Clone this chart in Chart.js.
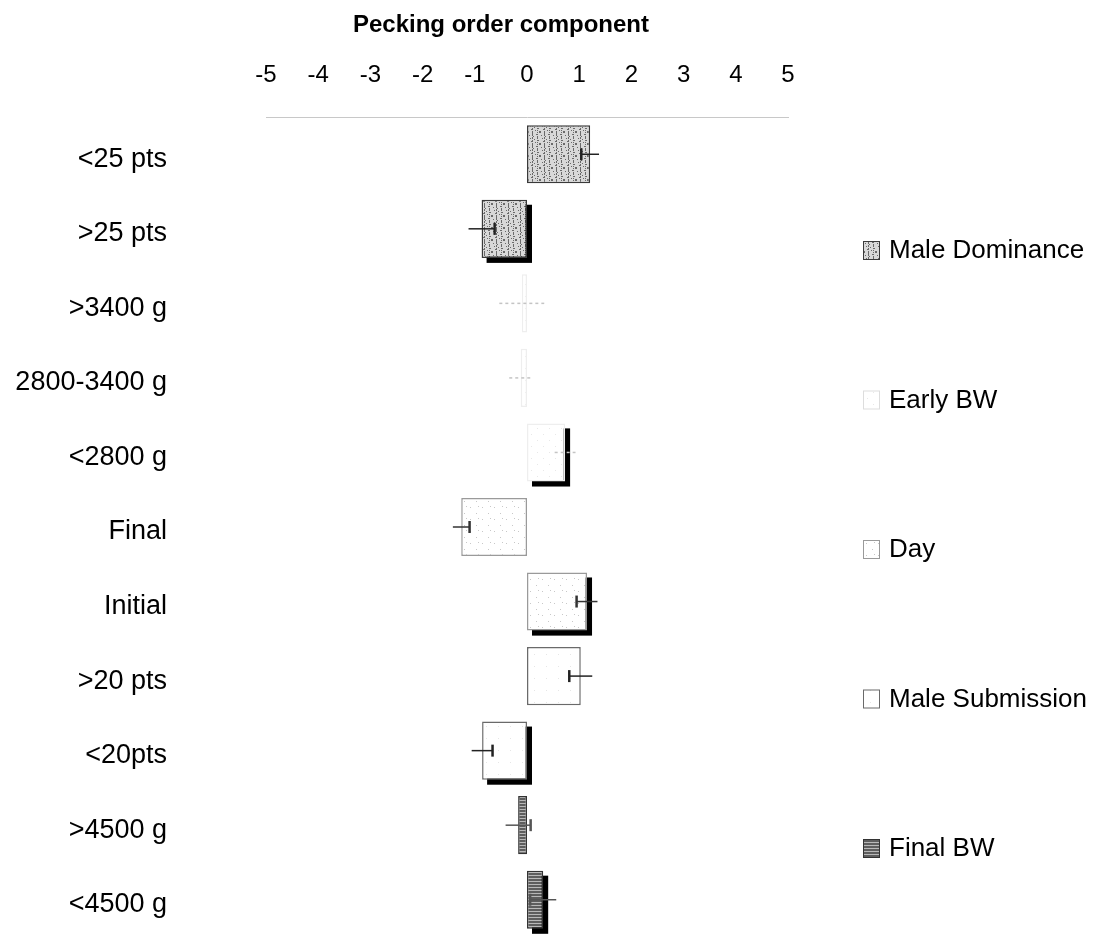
<!DOCTYPE html>
<html>
<head>
<meta charset="utf-8">
<script src="https://cdn.jsdelivr.net/npm/chart.js@4/dist/chart.umd.min.js"></script>
<style>
  html, body { margin: 0; padding: 0; background: #fff; }
  #wrap { width: 1101px; height: 937px; position: relative; }
</style>
</head>
<body>
<div id="wrap"><canvas id="peckChart"></canvas></div>
<script>
const categories = ['<25 pts', '>25 pts', '>3400 g', '2800-3400 g', '<2800 g', 'Final', 'Initial', '>20 pts', '<20pts', '>4500 g', '<4500 g'];
const seriesNames = ['Male Dominance', 'Early BW', 'Day', 'Male Submission', 'Final BW'];
const axisTitle = 'Pecking order component';

// one value per category, null where the category belongs to another factor
const maleDominance  = [1.21, -0.87, null, null, null, null, null, null, null, null, null];
const earlyBW        = [null, null, -0.1, -0.12, 0.73, null, null, null, null, null, null];
const day            = [null, null, null, null, null, -1.26, 1.15, null, null, null, null];
const maleSubmission = [null, null, null, null, null, null, null, 1.03, -0.86, null, null];
const finalBW        = [null, null, null, null, null, null, null, null, null, -0.17, 0.31];

// standard errors
const maleDominanceErr  = [0.17, 0.25, null, null, null, null, null, null, null, null, null];
const earlyBWErr        = [null, null, 0.43, 0.22, 0.2, null, null, null, null, null, null];
const dayErr            = [null, null, null, null, null, 0.16, 0.2, null, null, null, null];
const maleSubmissionErr = [null, null, null, null, null, null, null, 0.22, 0.2, null, null];
const finalBWErr        = [null, null, null, null, null, null, null, null, null, 0.24, 0.25];

const xTicksMin = -5;
const xTicksMax = 5;

const seriesValues = [maleDominance, earlyBW, day, maleSubmission, finalBW];
const seriesErrors = [maleDominanceErr, earlyBWErr, dayErr, maleSubmissionErr, finalBWErr];

const FONT = '"Liberation Sans", Arial, sans-serif';

// grey print-style fills
function makePattern(kind) {
  const c = document.createElement('canvas');
  c.width = 12; c.height = 12;
  const g = c.getContext('2d');
  g.fillStyle = '#fff';
  g.fillRect(0, 0, 12, 12);
  if (kind === 'speckle') {
    g.fillStyle = '#d8d8d8';
    g.fillRect(0, 0, 12, 12);
    g.fillStyle = '#6a6a6a';
    for (let y = 0; y < 12; y++) {
      for (let x = 0; x < 12; x++) {
        if ((x * 7 + y * 5) % 11 === 0 || (x === 4 && y % 3 !== 1) || (x === 9 && y % 2 === 0)) g.fillRect(x, y, 1, 1);
      }
    }
  } else if (kind === 'faint') {
    g.fillStyle = '#e8e8e8';
    g.fillRect(3, 2, 1, 1);
    g.fillRect(9, 8, 1, 1);
  } else if (kind === 'dots') {
    g.fillStyle = '#c8c8c8';
    g.fillRect(2, 3, 1, 1);
    g.fillRect(8, 9, 1, 1);
    g.fillRect(10, 2, 1, 1);
  } else if (kind === 'plain') {
    g.fillStyle = '#e6e6e6';
    g.fillRect(6, 6, 1, 1);
  } else if (kind === 'stripes') {
    for (let y = 0; y < 12; y += 3) {
      g.fillStyle = '#5e5e5e';
      g.fillRect(0, y, 12, 2);
      g.fillStyle = '#b8b8b8';
      g.fillRect(0, y + 2, 12, 1);
    }
  }
  return g.createPattern(c, 'repeat');
}

const fills = [makePattern('speckle'), makePattern('faint'), makePattern('dots'), makePattern('plain'), makePattern('stripes')];
const edges = ['#3a3a3a', '#eeeeee', '#9a9a9a', '#6a6a6a', '#333'];
const errColors = ['#222', '#c4c4c4', '#333', '#222', '#555'];

// drop shadow under the last bar of each factor, plus the error whiskers
const barExtras = {
  id: 'barExtras',
  beforeDatasetsDraw(chart) {
    const ctx = chart.ctx;
    chart.data.datasets.forEach((ds, i) => {
      const last = ds.data.reduce((k, v, j) => (v === null ? k : j), -1);
      const bar = chart.getDatasetMeta(i).data[last];
      if (!bar) return;
      const p = bar.getProps(['x', 'y', 'base', 'height'], true);
      ctx.save();
      ctx.fillStyle = '#000';
      ctx.fillRect(Math.min(p.x, p.base) + 5, p.y - p.height / 2 + 5, Math.abs(p.x - p.base), p.height);
      ctx.restore();
    });
  },
  afterDatasetsDraw(chart) {
    const ctx = chart.ctx;
    const xs = chart.scales.x;
    chart.data.datasets.forEach((ds, i) => {
      const meta = chart.getDatasetMeta(i);
      ds.data.forEach((v, j) => {
        const e = ds.errors[j];
        if (v === null || e === null) return;
        const y = meta.data[j].getProps(['y'], true).y;
        const lo = xs.getPixelForValue(v - e);
        const hi = xs.getPixelForValue(v + e);
        const inner = v >= 0 ? lo : hi;
        ctx.save();
        ctx.strokeStyle = errColors[i];
        ctx.lineWidth = 1.5;
        if (i === 1) ctx.setLineDash([3, 3]);
        ctx.beginPath();
        ctx.moveTo(lo, y);
        ctx.lineTo(hi, y);
        ctx.stroke();
        if (i !== 1) {
          ctx.lineWidth = 2.5;
          ctx.beginPath();
          ctx.moveTo(inner, y - 6);
          ctx.lineTo(inner, y + 6);
          ctx.stroke();
        }
        ctx.restore();
      });
    });
  }
};

// axis heading and legend column on the right
const sideLegend = {
  id: 'sideLegend',
  afterDraw(chart) {
    const ctx = chart.ctx;
    ctx.save();
    ctx.fillStyle = '#000';
    ctx.textAlign = 'center';
    ctx.textBaseline = 'middle';
    ctx.font = 'bold 24px ' + FONT;
    ctx.fillText(axisTitle, 501, 25);

    ctx.textAlign = 'left';
    ctx.font = '26px ' + FONT;
    chart.data.datasets.forEach((ds, i) => {
      const cy = 250 + i * 149.5;
      ctx.fillStyle = ds.backgroundColor;
      ctx.fillRect(863, cy - 9, 16, 18);
      ctx.strokeStyle = i === 1 ? '#ddd' : ds.borderColor;
      ctx.lineWidth = 1;
      ctx.strokeRect(863.5, cy - 8.5, 16, 18);
      ctx.fillStyle = '#000';
      ctx.fillText(ds.label, 889, cy + 1);
    });
    ctx.restore();
  }
};

new Chart(document.getElementById('peckChart'), {
  type: 'bar',
  data: {
    labels: categories,
    datasets: seriesNames.map((name, i) => ({
      label: name,
      data: seriesValues[i],
      errors: seriesErrors[i],
      backgroundColor: fills[i],
      borderColor: edges[i],
      borderWidth: 1.5,
      borderSkipped: false,
      barPercentage: 0.78,
      categoryPercentage: 1
    }))
  },
  options: {
    indexAxis: 'y',
    responsive: true,
    maintainAspectRatio: false,
    animation: false,
    layout: { padding: { left: 0, right: 313, top: 0, bottom: -6 } },
    plugins: {
      legend: { display: false },
      tooltip: { enabled: false }
    },
    scales: {
      x: {
        position: 'top',
        min: xTicksMin,
        max: xTicksMax,
        grid: { display: false, drawTicks: false },
        border: { display: true, color: '#c8c8c8', dash: [2, 6] },
        ticks: {
          stepSize: 1,
          padding: 27,
          color: '#000',
          font: { family: FONT, size: 24 }
        },
        afterFit(scale) { scale.height = 117; }
      },
      y: {
        stacked: true,
        grid: { display: false, drawTicks: false },
        border: { display: false },
        ticks: {
          padding: 99,
          labelOffset: 5,
          color: '#000',
          font: { family: FONT, size: 27 }
        },
        afterFit(scale) {
          scale.width = 266;
          scale.paddingTop = 0;
          scale.paddingBottom = 0;
        }
      }
    }
  },
  plugins: [barExtras, sideLegend]
});
</script>
</body>
</html>
